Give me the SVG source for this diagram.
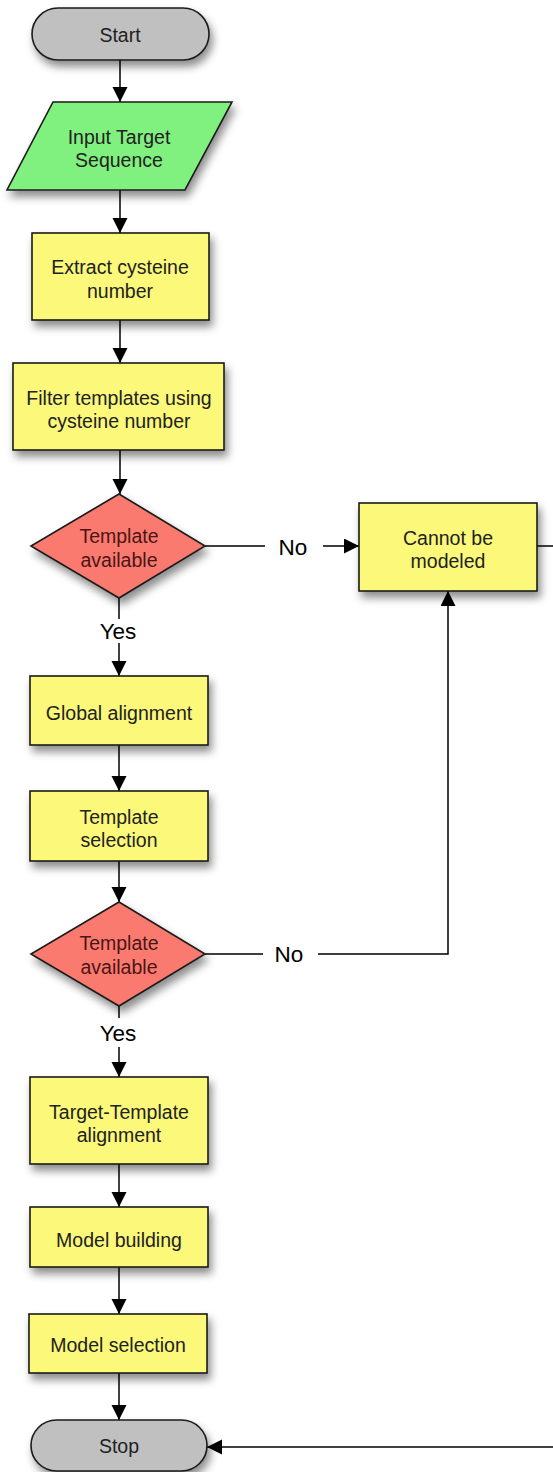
<svg xmlns="http://www.w3.org/2000/svg" width="553" height="1472" viewBox="0 0 553 1472">
<defs>
<filter id="sh" x="-20%" y="-20%" width="150%" height="160%">
<feDropShadow dx="3" dy="6" stdDeviation="4.5" flood-color="#000" flood-opacity="0.45"/>
</filter>
<marker id="ah" markerUnits="userSpaceOnUse" markerWidth="16" markerHeight="16" refX="15" refY="7.5" orient="auto">
<path d="M0,0 L15,7.5 L0,15 z" fill="#000"/>
</marker>
<style>
.term{fill:#c0c0c0;stroke:#1a1a1a;stroke-width:1.6;filter:url(#sh)}
.io{fill:#80f07f;stroke:#1a1a1a;stroke-width:1.6;filter:url(#sh)}
.proc{fill:#fbf87a;stroke:#1a1a1a;stroke-width:1.6;filter:url(#sh)}
.dec{fill:#fb7a70;stroke:#1a1a1a;stroke-width:1.6;filter:url(#sh)}
.t{font-family:"Liberation Sans",Arial,Helvetica,sans-serif;font-size:19.5px;fill:#222;text-anchor:middle;dominant-baseline:central}
.td{font-family:"Liberation Sans",Arial,Helvetica,sans-serif;font-size:19.5px;fill:#4a1515;text-anchor:middle;dominant-baseline:central}
.lbl{font-family:"Liberation Sans",Arial,Helvetica,sans-serif;font-size:22.5px;fill:#000;text-anchor:middle;dominant-baseline:central}
.c{fill:none;stroke:#000;stroke-width:1.5}
.ca{fill:none;stroke:#000;stroke-width:1.5;marker-end:url(#ah)}
</style>
</defs>
<rect width="553" height="1472" fill="#fff"/>
<g id="connectors">
<line class="ca" x1="120" y1="60" x2="120" y2="102"/>
<line class="ca" x1="120" y1="190" x2="120" y2="233"/>
<line class="ca" x1="120" y1="320" x2="120" y2="363"/>
<line class="ca" x1="120" y1="450" x2="120" y2="494"/>
<line class="c" x1="205" y1="546" x2="265" y2="546"/>
<line class="ca" x1="323" y1="546" x2="359" y2="546"/>
<line class="c" x1="119" y1="598" x2="119" y2="619"/>
<line class="ca" x1="119" y1="643" x2="119" y2="676"/>
<line class="ca" x1="119" y1="745" x2="119" y2="791"/>
<line class="ca" x1="119" y1="861" x2="119" y2="902"/>
<line class="c" x1="205" y1="954" x2="263" y2="954"/>
<polyline class="ca" points="318,954 448,954 448,591"/>
<line class="c" x1="119" y1="1006" x2="119" y2="1018"/>
<line class="ca" x1="119" y1="1047" x2="119" y2="1077"/>
<line class="ca" x1="119" y1="1164" x2="119" y2="1207"/>
<line class="ca" x1="119" y1="1267" x2="119" y2="1314"/>
<line class="ca" x1="119" y1="1373" x2="119" y2="1420"/>
<line class="c" x1="537" y1="546" x2="560" y2="546"/>
<line class="ca" x1="560" y1="1447" x2="207" y2="1447"/>
<text class="lbl" x="293" y="547">No</text>
<text class="lbl" x="289" y="954">No</text>
<text class="lbl" x="118" y="631">Yes</text>
<text class="lbl" x="118" y="1033">Yes</text>
</g>
<g id="start">
<rect class="term" x="32" y="8" width="177" height="52" rx="26" ry="26"/>
<text class="t" x="120" y="35">Start</text>
</g>
<g id="input">
<polygon class="io" points="53,102 232,102 185,190 7,190"/>
<text class="t" x="119" y="137">Input Target</text>
<text class="t" x="119" y="160">Sequence</text>
</g>
<g id="extract">
<rect class="proc" x="32" y="233" width="177" height="87"/>
<text class="t" x="120" y="267">Extract cysteine</text>
<text class="t" x="120" y="291">number</text>
</g>
<g id="filter">
<rect class="proc" x="13" y="363" width="211" height="87"/>
<text class="t" x="119" y="398">Filter templates using</text>
<text class="t" x="119" y="421">cysteine number</text>
</g>
<g id="decision1">
<polygon class="dec" points="119,494 205,546 119,598 31,546"/>
<text class="td" x="119" y="536">Template</text>
<text class="td" x="119" y="560">available</text>
</g>
<g id="cannot">
<rect class="proc" x="359" y="503" width="178" height="88"/>
<text class="t" x="448" y="538">Cannot be</text>
<text class="t" x="448" y="561">modeled</text>
</g>
<g id="global">
<rect class="proc" x="30" y="676" width="178" height="69"/>
<text class="t" x="119" y="713">Global alignment</text>
</g>
<g id="selection">
<rect class="proc" x="30" y="791" width="178" height="70"/>
<text class="t" x="119" y="817">Template</text>
<text class="t" x="119" y="840">selection</text>
</g>
<g id="decision2">
<polygon class="dec" points="119,902 205,954 119,1006 31,954"/>
<text class="td" x="119" y="943">Template</text>
<text class="td" x="119" y="967">available</text>
</g>
<g id="tt">
<rect class="proc" x="30" y="1077" width="178" height="87"/>
<text class="t" x="119" y="1112">Target-Template</text>
<text class="t" x="119" y="1135">alignment</text>
</g>
<g id="building">
<rect class="proc" x="30" y="1207" width="178" height="60"/>
<text class="t" x="119" y="1240">Model building</text>
</g>
<g id="modelsel">
<rect class="proc" x="29" y="1314" width="178" height="59"/>
<text class="t" x="118" y="1345">Model selection</text>
</g>
<g id="stop">
<rect class="term" x="31" y="1420" width="176" height="51" rx="25.5" ry="25.5"/>
<text class="t" x="119" y="1446">Stop</text>
</g>
</svg>
